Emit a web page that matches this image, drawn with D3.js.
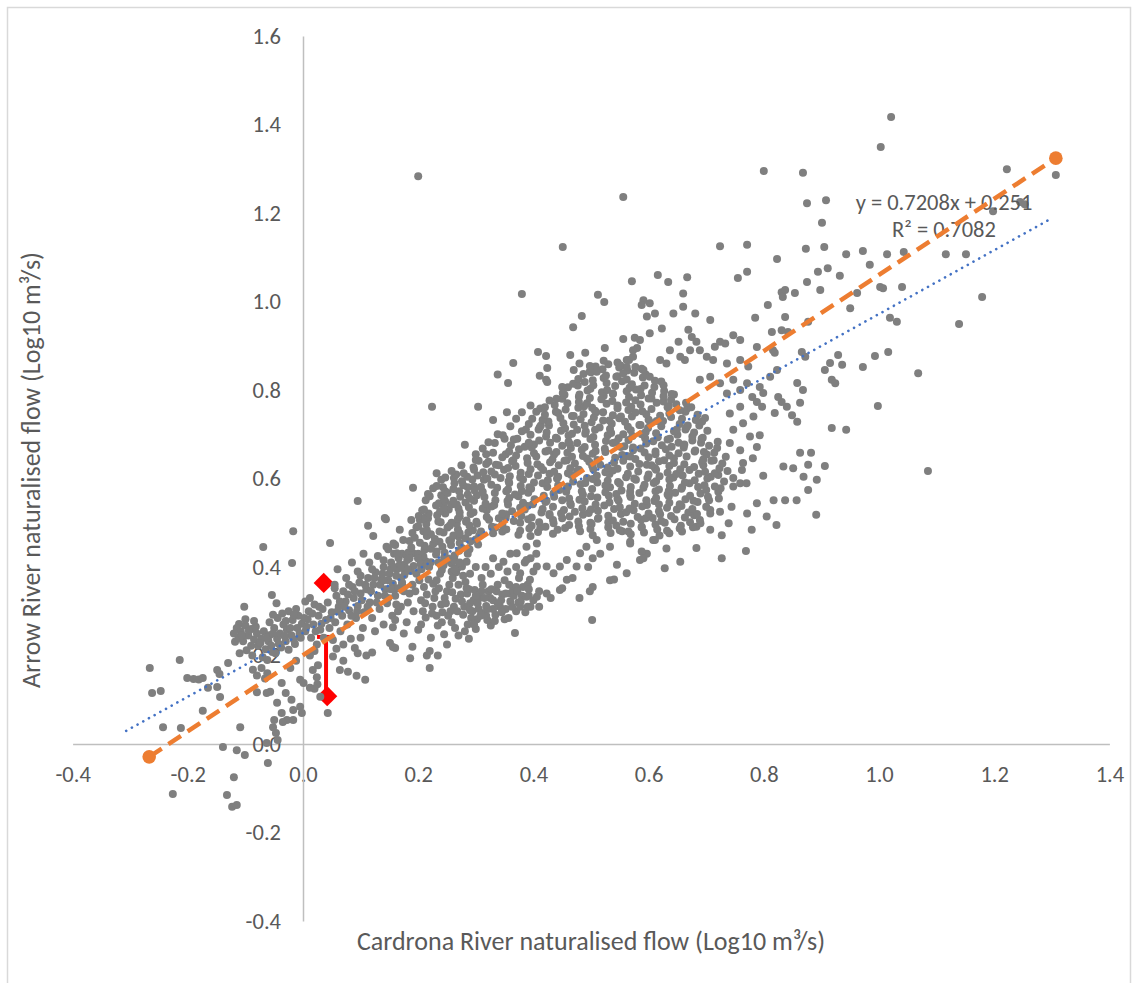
<!DOCTYPE html>
<html>
<head>
<meta charset="utf-8">
<script src="https://cdn.jsdelivr.net/npm/d3@7"></script>
<style>
  body { margin: 0; background: #fff; }
  text { font-family: Carlito, Lato, sans-serif; }
</style>
</head>
<body>
<div id="chart"></div>
<script>

var xTicks = [-0.4, -0.2, 0, 0.2, 0.4, 0.6, 0.8, 1.0, 1.2, 1.4],
    yTicks = [-0.4, -0.2, 0, 0.2, 0.4, 0.6, 0.8, 1.0, 1.2, 1.4, 1.6];

// gray points, Cardrona (x) vs Arrow (y), grouped by area of the cloud
var tailLow = [[-0.266,0.172],[-0.214,0.19],[-0.262,0.115],[-0.247,0.12],[-0.243,0.038],[-0.212,0.036],[-0.201,0.149],[-0.19,0.147],[-0.181,0.146],[-0.174,0.149],[-0.149,0.167],[-0.145,0.158],[-0.13,0.183],[-0.165,0.127],[-0.149,0.129],[-0.144,0.106],[-0.174,0.075],[-0.109,0.038],[-0.139,-0.007],[-0.115,-0.014],[-0.101,-0.025],[-0.12,-0.075],[-0.061,-0.043],[-0.226,-0.113],[-0.132,-0.115],[-0.123,-0.142],[-0.115,-0.138],[-0.087,0.168],[-0.08,0.155],[-0.072,0.172],[-0.066,0.148],[-0.062,0.16],[-0.057,0.118],[-0.037,0.138],[-0.05,0.054],[-0.052,0.038],[-0.047,0.025],[-0.044,0.009],[-0.063,0.002],[-0.02,0.1],[-0.017,0.077],[-0.005,0.084],[-0.002,0.07],[-0.037,0.07],[-0.028,0.054],[-0.005,0.145],[0.001,0.138],[0.012,0.127],[0.043,0.07],[0.017,0.167],[0.024,0.151],[0.064,0.167],[0.078,0.163],[0.093,0.154],[0.108,0.145],[0.09,0.217],[0.095,0.205],[0.11,0.2],[0.12,0.207],[0.156,0.264],[0.151,0.228],[0.16,0.217],[-0.035,0.05],[-0.017,0.054],[-0.045,0.093],[-0.08,0.117],[-0.063,0.115],[-0.03,0.115],[0.095,0.549],[0.144,0.508],[0.113,0.493],[0.122,0.47],[-0.017,0.481],[-0.069,0.445],[0.047,0.454],[-0.019,0.409],[-0.054,0.337],[-0.046,0.318],[-0.102,0.31],[-0.052,0.292],[-0.111,0.271],[-0.118,0.231],[0.025,0.135],[0.026,0.178],[0.058,0.215],[-0.012,0.188],[-0.022,0.172],[0.07,0.188],[0.03,0.107],[0.02,0.125]];

var coreLow = [[-0.115,0.262],[-0.108,0.255],[-0.1,0.268],[-0.112,0.24],[-0.104,0.232],[-0.095,0.245],[-0.09,0.26],[-0.085,0.236],[-0.08,0.25],[-0.078,0.222],[-0.072,0.238],[-0.068,0.255],[-0.065,0.214],[-0.06,0.232],[-0.058,0.246],[-0.055,0.222],[-0.05,0.262],[-0.048,0.205],[-0.045,0.238],[-0.04,0.25],[-0.038,0.218],[-0.034,0.27],[-0.03,0.232],[-0.028,0.258],[-0.025,0.213],[-0.02,0.245],[-0.018,0.28],[-0.014,0.226],[-0.01,0.262],[-0.008,0.29],[-0.004,0.24],[-0.002,0.272],[-0.11,0.205],[-0.098,0.212],[-0.088,0.2],[-0.07,0.196],[-0.058,0.275],[-0.044,0.285],[-0.036,0.295],[-0.025,0.3],[-0.012,0.305],[-0.1,0.282],[-0.085,0.278],[-0.12,0.25],[-0.062,0.19],
  [0.004,0.255],[0.008,0.282],[0.01,0.3],[0.014,0.24],[0.018,0.27],[0.02,0.315],[0.024,0.225],[0.027,0.29],[0.03,0.258],[0.034,0.305],[0.036,0.24],[0.04,0.28],[0.043,0.32],[0.046,0.262],[0.05,0.298],[0.052,0.235],[0.056,0.275],[0.058,0.335],[0.062,0.31],[0.065,0.255],[0.068,0.29],[0.07,0.345],[0.074,0.322],[0.077,0.27],[0.08,0.302],[0.083,0.238],[0.086,0.355],[0.088,0.33],[0.092,0.285],[0.095,0.312],[0.098,0.365],[0.1,0.34],[0.104,0.262],[0.106,0.298],[0.11,0.35],[0.113,0.375],[0.116,0.32],[0.12,0.285],[0.122,0.36],[0.126,0.388],[0.13,0.335],[0.133,0.305],[0.136,0.372],[0.14,0.4],[0.143,0.35],[0.146,0.318],[0.15,0.385],[0.153,0.41],[0.156,0.362],[0.16,0.335],[0.163,0.395],[0.166,0.42],[0.17,0.375],[0.055,0.352],[0.055,0.36],[0.075,0.375],[0.095,0.39],[0.115,0.41],[0.13,0.425],[0.148,0.44],[0.02,0.21],[0.07,0.225],[0.1,0.24],[0.125,0.255],[0.14,0.27],[0.165,0.3],[0.06,0.395],[0.085,0.41],[0.105,0.43],[0.012,0.33],[0.004,0.322],[0.16,0.45],[0.172,0.43],[0.175,0.345],[0.012,0.2],[0.052,0.198],
  [-0.106,0.246],[-0.094,0.256],[-0.082,0.265],[-0.074,0.228],[-0.063,0.24],[-0.052,0.25],[-0.042,0.226],[-0.032,0.244],[-0.022,0.262],[-0.016,0.236],[-0.006,0.25],[-0.09,0.222],[-0.053,0.208],[-0.03,0.278],[-0.016,0.292],[0.002,0.285],[0.006,0.265],[0.016,0.295],[0.022,0.255],[0.028,0.31],[0.032,0.272],[0.048,0.285],[0.06,0.3],[0.064,0.322],[0.072,0.31],[0.078,0.338],[0.084,0.29],[0.09,0.345],[0.094,0.3],[0.102,0.325],[0.108,0.36],[0.112,0.31],[0.118,0.345],[0.124,0.375],[0.128,0.32],[0.134,0.36],[0.138,0.385],[0.142,0.335],[0.148,0.37],[0.152,0.395],[0.158,0.35],[0.162,0.38],[0.168,0.405],[0.172,0.36],[0.178,0.39],[0.08,0.36],[0.1,0.38],[0.12,0.395],[0.14,0.415],[0.158,0.43]];

var clusterUpper = [[0.172,0.398],[0.187,0.391],[0.206,0.396],[0.219,0.4],[0.241,0.393],[0.258,0.39],[0.269,0.399],
  [0.176,0.405],[0.192,0.402],[0.204,0.407],[0.222,0.411],[0.244,0.404],[0.258,0.408],[0.276,0.401],
  [0.181,0.416],[0.2,0.42],[0.213,0.413],[0.235,0.41],[0.252,0.419],[0.263,0.415],[0.284,0.412],
  [0.179,0.427],[0.191,0.431],[0.209,0.424],[0.231,0.428],[0.245,0.421],[0.263,0.426],[0.286,0.43],
  [0.183,0.433],[0.2,0.43],[0.211,0.439],[0.232,0.435],[0.246,0.432],[0.271,0.437],[0.287,0.441],
  [0.188,0.444],[0.211,0.448],[0.222,0.441],[0.242,0.446],[0.257,0.45],[0.276,0.443],[0.289,0.44],
  [0.185,0.459],[0.203,0.455],[0.226,0.452],[0.237,0.457],[0.257,0.461],[0.272,0.454],[0.291,0.458],[0.304,0.451],
  [0.194,0.466],[0.215,0.47],[0.229,0.463],[0.254,0.46],[0.27,0.469],[0.282,0.465],[0.3,0.462],
  [0.19,0.477],[0.209,0.481],[0.222,0.474],[0.244,0.478],[0.261,0.471],[0.272,0.476],
  [0.197,0.49],[0.215,0.483],[0.237,0.48],[0.251,0.489],[0.269,0.485],
  [0.2,0.492],[0.214,0.497],[0.239,0.501],[0.255,0.494],[0.267,0.498],[0.283,0.502],
  [0.203,0.506],[0.217,0.51],[0.235,0.503],[0.258,0.5],[0.269,0.509],
  [0.201,0.515],[0.212,0.512],[0.233,0.517],[0.247,0.521],[0.272,0.514],
  [0.207,0.528],[0.218,0.521],[0.238,0.526],[0.253,0.53],[0.272,0.523],
  [0.21,0.53],[0.231,0.539],[0.245,0.535],[0.258,0.541],[0.27,0.532],
  [0.213,0.551],[0.236,0.544],[0.247,0.548],[0.267,0.541],[0.282,0.546],
  [0.22,0.56],[0.245,0.553],[0.261,0.55],[0.273,0.559],
  [0.217,0.565],[0.24,0.562],[0.251,0.567],[0.271,0.571],[0.286,0.564],
  [0.226,0.578],[0.247,0.571],[0.261,0.576],[0.286,0.58],
  [0.232,0.583],[0.243,0.58],[0.263,0.589],[0.278,0.585],[0.297,0.582],
  [0.24,0.597],[0.262,0.601],[0.276,0.594],[0.294,0.598],
  [0.247,0.602],[0.266,0.609],[0.285,0.604],[0.303,0.607],
  [0.258,0.617],[0.279,0.612],[0.297,0.62],[0.313,0.614],
  [0.275,0.63],[0.296,0.625],[0.318,0.633],[0.3,0.642],[0.322,0.638],
  [0.305,0.64],[0.318,0.655],[0.3,0.655],[0.312,0.668],[0.322,0.682],[0.338,0.7],[0.35,0.69],[0.36,0.718],[0.37,0.735],[0.38,0.75],[0.395,0.765],
  [0.145,0.446],[0.157,0.453],[0.163,0.431],[0.174,0.461],[0.168,0.484],[0.188,0.506]];

var bandLower = [[0.14,0.37],[0.148,0.33],[0.155,0.29],[0.158,0.4],[0.165,0.352],[0.17,0.31],[0.176,0.382],[0.18,0.275],[0.185,0.34],[0.19,0.36],[0.192,0.3],[0.197,0.385],[0.2,0.258],[0.205,0.325],[0.21,0.355],[0.213,0.286],[0.218,0.372],[0.222,0.24],[0.225,0.31],[0.23,0.345],[0.234,0.268],[0.238,0.385],[0.242,0.298],[0.246,0.33],[0.25,0.225],[0.254,0.36],[0.258,0.275],[0.262,0.31],[0.266,0.388],[0.27,0.245],[0.274,0.338],[0.278,0.292],[0.282,0.366],[0.286,0.27],[0.29,0.318],[0.294,0.3],[0.298,0.348],[0.302,0.282],[0.306,0.33],[0.31,0.375],[0.314,0.296],[0.318,0.312],[0.322,0.345],[0.326,0.268],[0.33,0.325],[0.334,0.292],[0.338,0.36],[0.342,0.31],[0.346,0.338],[0.35,0.282],[0.355,0.39],[0.36,0.322],[0.365,0.35],[0.37,0.3],[0.375,0.375],[0.38,0.335],[0.385,0.41],[0.39,0.36],[0.395,0.31],[0.4,0.39],[0.405,0.43],[0.41,0.345],[0.3,0.26],[0.32,0.28],[0.285,0.34],[0.31,0.345],[0.296,0.325],[0.215,0.405],[0.2,0.42],[0.185,0.42],[0.245,0.41],[0.272,0.41],[0.34,0.4],[0.36,0.43],[0.33,0.42],[0.3,0.4],[0.16,0.28],[0.175,0.25],[0.19,0.22],[0.22,0.21],[0.156,0.219],[0.186,0.194],[0.22,0.172],[0.215,0.2],[0.234,0.2],[0.368,0.251],[0.39,0.31],[0.41,0.31],[0.377,0.31],[0.36,0.34],[0.37,0.355],
  [0.152,0.35],[0.162,0.315],[0.172,0.365],[0.182,0.32],[0.195,0.345],[0.202,0.37],[0.208,0.3],[0.215,0.338],[0.226,0.362],[0.232,0.29],[0.24,0.315],[0.25,0.345],[0.256,0.3],[0.265,0.328],[0.27,0.36],[0.28,0.31],[0.288,0.35],[0.292,0.285],[0.3,0.335],[0.305,0.305],[0.312,0.36],[0.318,0.29],[0.325,0.33],[0.33,0.305],[0.336,0.345],[0.344,0.325],[0.352,0.305],[0.358,0.36],[0.366,0.335],[0.374,0.32],[0.382,0.355],[0.392,0.335],[0.35,0.37],[0.326,0.385],[0.29,0.385],[0.26,0.375],[0.232,0.37],[0.205,0.395],[0.182,0.395],[0.17,0.4],
  [0.205,0.27],[0.212,0.318],[0.224,0.295],[0.228,0.33],[0.236,0.352],[0.241,0.275],[0.248,0.318],[0.252,0.29],[0.259,0.343],[0.264,0.262],[0.268,0.3],[0.276,0.322],[0.281,0.255],[0.284,0.352],[0.29,0.302],[0.297,0.27],[0.303,0.318],[0.308,0.29],[0.315,0.33],[0.321,0.305],[0.327,0.35],[0.333,0.278],[0.338,0.318],[0.345,0.298],[0.352,0.34],[0.357,0.285],[0.363,0.31],[0.372,0.345],[0.378,0.322],[0.386,0.298],[0.392,0.35],[0.4,0.325],[0.263,0.395],[0.278,0.38],[0.317,0.4],[0.348,0.412],[0.37,0.4],[0.395,0.42],[0.245,0.248],[0.288,0.238]];

var scatterMid = [[0.371,0.431],[0.388,0.446],[0.406,0.453],[0.388,0.416],[0.406,0.401],[0.377,0.386],[0.394,0.371],[0.423,0.401],[0.435,0.386],[0.446,0.401],[0.458,0.416],[0.475,0.401],[0.481,0.431],[0.492,0.446],[0.51,0.461],[0.458,0.371],[0.446,0.348],[0.423,0.34],[0.406,0.333],[0.388,0.333],[0.43,0.33],[0.45,0.352],[0.468,0.375],[0.48,0.33],[0.498,0.345],[0.503,0.355],[0.502,0.28],[0.533,0.37],[0.54,0.372],[0.562,0.386],[0.585,0.416],[0.597,0.43],[0.608,0.461],[0.568,0.457],[0.516,0.43],[0.503,0.42],[0.495,0.4],[0.533,0.446],[0.568,0.453],[0.588,0.435],[0.611,0.461],[0.631,0.442],[0.545,0.405],[0.591,0.42],[0.655,0.412],[0.628,0.397],[0.683,0.443],[0.707,0.484],[0.727,0.472],[0.727,0.42],[0.769,0.436],[0.779,0.484]];

var massCentral = [[0.287,0.478],[0.306,0.471],[0.33,0.476],[0.346,0.48],[0.374,0.473],[0.395,0.47],[0.408,0.479],[0.434,0.475],[0.503,0.472],[0.534,0.477],[0.554,0.481],[0.569,0.474],[0.592,0.478],[0.619,0.471],[0.636,0.476],[0.658,0.48],
  [0.295,0.483],[0.309,0.48],[0.334,0.489],[0.353,0.485],[0.377,0.482],[0.393,0.487],[0.421,0.491],[0.442,0.484],[0.455,0.488],[0.481,0.481],[0.499,0.486],[0.53,0.49],[0.55,0.483],[0.565,0.48],[0.588,0.489],[0.615,0.485],[0.632,0.482],[0.654,0.487],[0.683,0.491],
  [0.289,0.494],[0.302,0.498],[0.328,0.491],[0.346,0.496],[0.377,0.5],[0.397,0.493],[0.412,0.49],[0.435,0.499],[0.462,0.495],[0.479,0.492],[0.501,0.497],[0.53,0.501],[0.544,0.494],[0.569,0.498],[0.588,0.491],[0.612,0.496],[0.628,0.5],[0.656,0.493],[0.677,0.49],[0.69,0.499],
  [0.284,0.505],[0.301,0.502],[0.323,0.507],[0.352,0.511],[0.366,0.504],[0.391,0.508],[0.41,0.501],[0.434,0.506],[0.45,0.51],[0.478,0.503],[0.499,0.5],[0.512,0.509],[0.538,0.505],[0.556,0.502],[0.587,0.507],[0.607,0.511],[0.622,0.504],[0.645,0.508],[0.672,0.501],[0.689,0.506],
  [0.291,0.52],[0.319,0.513],[0.34,0.51],[0.353,0.519],[0.379,0.515],[0.397,0.512],[0.428,0.517],[0.448,0.521],[0.463,0.514],[0.486,0.518],[0.513,0.511],[0.53,0.516],[0.552,0.52],[0.581,0.513],[0.595,0.51],[0.62,0.519],[0.639,0.515],[0.663,0.512],[0.679,0.517],[0.707,0.521],
  [0.296,0.524],[0.319,0.528],[0.346,0.521],[0.363,0.526],[0.385,0.53],[0.414,0.523],[0.428,0.52],[0.453,0.529],[0.472,0.525],[0.496,0.522],[0.512,0.527],[0.54,0.531],[0.561,0.524],[0.574,0.528],[0.6,0.521],[0.618,0.526],[0.649,0.53],[0.669,0.523],[0.684,0.52],[0.707,0.529],
  [0.288,0.535],[0.312,0.532],[0.328,0.537],[0.356,0.541],[0.377,0.534],[0.39,0.538],[0.416,0.531],[0.434,0.536],[0.465,0.54],[0.485,0.533],[0.5,0.53],[0.523,0.539],[0.55,0.535],[0.567,0.532],[0.589,0.537],[0.618,0.541],[0.632,0.534],[0.657,0.538],[0.676,0.531],[0.7,0.536],
  [0.297,0.55],[0.317,0.543],[0.332,0.54],[0.355,0.549],[0.382,0.545],[0.399,0.542],[0.421,0.547],[0.45,0.551],[0.464,0.544],[0.489,0.548],[0.508,0.541],[0.532,0.546],[0.548,0.55],[0.576,0.543],[0.597,0.54],[0.61,0.549],[0.636,0.545],[0.654,0.542],[0.685,0.547],[0.705,0.551],
  [0.29,0.554],[0.315,0.558],[0.334,0.551],[0.358,0.556],[0.374,0.56],[0.402,0.553],[0.423,0.55],[0.436,0.559],[0.462,0.555],[0.48,0.552],[0.511,0.557],[0.531,0.561],[0.546,0.554],[0.569,0.558],[0.596,0.551],[0.613,0.556],[0.635,0.56],[0.664,0.553],[0.678,0.55],[0.703,0.559],[0.722,0.555],
  [0.302,0.562],[0.333,0.567],[0.353,0.571],[0.368,0.564],[0.391,0.568],[0.418,0.561],[0.435,0.566],[0.457,0.57],[0.486,0.563],[0.5,0.56],[0.525,0.569],[0.544,0.565],[0.568,0.562],[0.584,0.567],[0.612,0.571],[0.633,0.564],[0.646,0.568],[0.672,0.561],[0.69,0.566],[0.721,0.57],
  [0.298,0.573],[0.312,0.57],[0.337,0.579],[0.356,0.575],[0.38,0.572],[0.396,0.577],[0.424,0.581],[0.445,0.574],[0.458,0.578],[0.484,0.571],[0.502,0.576],[0.533,0.58],[0.553,0.573],[0.568,0.57],[0.591,0.579],[0.618,0.575],[0.635,0.572],[0.657,0.577],[0.686,0.581],[0.7,0.574],[0.725,0.578],
  [0.309,0.581],[0.327,0.586],[0.358,0.59],[0.378,0.583],[0.393,0.58],[0.416,0.589],[0.443,0.585],[0.46,0.582],[0.482,0.587],[0.511,0.591],[0.525,0.584],[0.55,0.588],[0.569,0.581],[0.593,0.586],[0.609,0.59],[0.637,0.583],[0.658,0.58],[0.671,0.589],[0.697,0.585],[0.715,0.582],
  [0.314,0.597],[0.343,0.601],[0.357,0.594],[0.382,0.598],[0.401,0.591],[0.425,0.596],[0.441,0.6],[0.469,0.593],[0.49,0.59],[0.503,0.599],[0.529,0.595],[0.547,0.592],[0.578,0.597],[0.598,0.601],[0.613,0.594],[0.636,0.598],[0.663,0.591],[0.68,0.596],[0.702,0.6],[0.731,0.593],
  [0.32,0.6],[0.333,0.609],[0.359,0.605],[0.377,0.602],[0.408,0.607],[0.428,0.611],[0.443,0.604],[0.466,0.608],[0.493,0.601],[0.51,0.606],[0.532,0.61],[0.561,0.603],[0.575,0.6],[0.6,0.609],[0.619,0.605],[0.643,0.602],[0.659,0.607],[0.687,0.611],[0.708,0.604],[0.721,0.608],[0.747,0.601],
  [0.327,0.616],[0.349,0.62],[0.378,0.613],[0.392,0.61],[0.417,0.619],[0.436,0.615],[0.46,0.612],[0.476,0.617],[0.504,0.621],[0.525,0.614],[0.538,0.618],[0.564,0.611],[0.582,0.616],[0.613,0.62],[0.633,0.613],[0.648,0.61],[0.671,0.619],[0.698,0.615],[0.715,0.612],[0.737,0.617],
  [0.335,0.631],[0.356,0.624],[0.369,0.628],[0.395,0.621],[0.413,0.626],[0.444,0.63],[0.464,0.623],[0.479,0.62],[0.502,0.629],[0.529,0.625],[0.546,0.622],[0.568,0.627],[0.597,0.631],[0.611,0.624],[0.636,0.628],[0.655,0.621],[0.679,0.626],[0.695,0.63],[0.723,0.623],
  [0.34,0.63],[0.363,0.639],[0.39,0.635],[0.407,0.632],[0.429,0.637],[0.458,0.641],[0.472,0.634],[0.497,0.638],[0.516,0.631],[0.54,0.636],[0.556,0.64],[0.584,0.633],[0.605,0.63],[0.618,0.639],[0.644,0.635],[0.662,0.632],[0.693,0.637],[0.713,0.641],[0.728,0.634],
  [0.346,0.648],[0.365,0.641],[0.389,0.646],[0.405,0.65],[0.433,0.643],[0.454,0.64],[0.467,0.649],[0.493,0.645],[0.511,0.642],[0.542,0.647],[0.562,0.651],[0.577,0.644],[0.6,0.648],[0.627,0.641],[0.644,0.646],[0.666,0.65],[0.695,0.643],[0.709,0.64],[0.734,0.649],
  [0.352,0.655],[0.37,0.652],[0.401,0.657],[0.421,0.661],[0.436,0.654],[0.459,0.658],[0.486,0.651],[0.503,0.656],[0.525,0.66],[0.554,0.653],[0.568,0.65],[0.593,0.659],[0.612,0.655],[0.636,0.652],[0.652,0.657],[0.68,0.661],[0.701,0.654],[0.714,0.658],
  [0.358,0.661],[0.375,0.666],[0.397,0.67],[0.426,0.663],[0.44,0.66],[0.465,0.669],[0.484,0.665],[0.508,0.662],[0.524,0.667],[0.552,0.671],[0.573,0.664],[0.586,0.668],[0.612,0.661],[0.63,0.666],[0.661,0.67],[0.681,0.663],[0.696,0.66],[0.719,0.669],
  [0.361,0.675],[0.385,0.672],[0.401,0.677],[0.429,0.681],[0.45,0.674],[0.463,0.678],[0.489,0.671],[0.507,0.676],[0.538,0.68],[0.558,0.673],[0.573,0.67],[0.596,0.679],[0.623,0.675],[0.64,0.672],[0.662,0.677],[0.691,0.681],[0.705,0.674],
  [0.366,0.688],[0.392,0.681],[0.41,0.686],[0.441,0.69],[0.461,0.683],[0.476,0.68],[0.499,0.689],[0.526,0.685],[0.543,0.682],[0.565,0.687],[0.594,0.691],[0.608,0.684],[0.633,0.688],[0.652,0.681],[0.676,0.686],[0.692,0.69],[0.72,0.683],
  [0.372,0.69],[0.395,0.699],[0.422,0.695],[0.439,0.692],[0.461,0.697],[0.49,0.701],[0.504,0.694],[0.529,0.698],[0.548,0.691],[0.572,0.696],[0.588,0.7],[0.616,0.693],[0.637,0.69],[0.65,0.699],[0.676,0.695],[0.694,0.692],
  [0.38,0.707],[0.409,0.711],[0.423,0.704],[0.448,0.708],[0.467,0.701],[0.491,0.706],[0.507,0.71],[0.535,0.703],[0.556,0.7],[0.569,0.709],[0.595,0.705],[0.613,0.702],[0.644,0.707],[0.664,0.711],[0.679,0.704],[0.702,0.708],
  [0.387,0.711],[0.411,0.716],[0.427,0.72],[0.455,0.713],[0.476,0.71],[0.489,0.719],[0.515,0.715],[0.533,0.712],[0.564,0.717],[0.584,0.721],[0.599,0.714],[0.622,0.718],[0.649,0.711],[0.666,0.716],[0.688,0.72],
  [0.392,0.723],[0.413,0.72],[0.426,0.729],[0.452,0.725],[0.47,0.722],[0.501,0.727],[0.521,0.731],[0.536,0.724],[0.559,0.728],[0.586,0.721],[0.603,0.726],[0.625,0.73],[0.654,0.723],[0.668,0.72],[0.693,0.729],
  [0.398,0.735],[0.416,0.732],[0.447,0.737],[0.467,0.741],[0.482,0.734],[0.505,0.738],[0.532,0.731],[0.549,0.736],[0.571,0.74],[0.6,0.733],[0.614,0.73],[0.639,0.739],[0.658,0.735],[0.682,0.732],[0.698,0.737],
  [0.405,0.751],[0.42,0.744],[0.443,0.748],[0.47,0.741],[0.487,0.746],[0.509,0.75],[0.538,0.743],[0.552,0.74],[0.577,0.749],[0.596,0.745],[0.62,0.742],[0.636,0.747],[0.664,0.751],[0.685,0.744],
  [0.412,0.758],[0.439,0.751],[0.456,0.756],[0.478,0.76],[0.507,0.753],[0.521,0.75],[0.546,0.759],[0.565,0.755],[0.589,0.752],[0.605,0.757],[0.633,0.761],[0.654,0.754],[0.667,0.758],
  [0.42,0.761],[0.437,0.766],[0.459,0.77],[0.488,0.763],[0.502,0.76],[0.527,0.769],[0.546,0.765],[0.57,0.762],[0.586,0.767],[0.614,0.771],[0.635,0.764],[0.648,0.768],[0.674,0.761],
  [0.428,0.776],[0.45,0.78],[0.479,0.773],[0.493,0.77],[0.518,0.779],[0.537,0.775],[0.561,0.772],[0.577,0.777],[0.605,0.781],[0.626,0.774],[0.639,0.778],[0.665,0.771],
  [0.44,0.78],[0.454,0.789],[0.479,0.785],[0.498,0.782],[0.522,0.787],[0.538,0.791],[0.566,0.784],[0.587,0.788],[0.6,0.781],[0.626,0.786],[0.644,0.79],
  [0.451,0.793],[0.48,0.79],[0.494,0.799],[0.519,0.795],[0.538,0.792],[0.562,0.797],[0.578,0.801],[0.606,0.794],[0.627,0.798],[0.64,0.791],
  [0.46,0.806],[0.477,0.81],[0.499,0.803],[0.528,0.8],[0.542,0.809],[0.567,0.805],[0.586,0.802],[0.61,0.807],[0.626,0.811],
  [0.469,0.814],[0.489,0.818],[0.504,0.811],[0.527,0.816],[0.554,0.82],[0.571,0.813],[0.593,0.81],[0.622,0.819],
  [0.478,0.825],[0.503,0.822],[0.522,0.827],[0.546,0.831],[0.562,0.824],[0.59,0.828],[0.611,0.821],
  [0.487,0.836],[0.5,0.84],[0.526,0.833],[0.544,0.83],[0.575,0.839],[0.595,0.835],
  [0.498,0.842],[0.52,0.847],[0.549,0.851],[0.563,0.844],[0.588,0.848],
  [0.508,0.853],[0.53,0.858],[0.551,0.855],[0.577,0.852],
  [0.522,0.866],[0.546,0.862],[0.566,0.868]];

var scatterUpper = [[0.224,0.762],[0.304,0.762],[0.356,0.816],[0.424,0.818],[0.354,0.75],[0.281,0.676],[0.191,0.579],[0.142,0.511],[0.232,0.612],[0.33,0.732],[0.333,0.68],[0.347,0.698],[0.33,0.658],[0.38,1.017],[0.512,1.015],[0.523,0.999],[0.484,0.967],[0.469,0.942],[0.556,0.915],[0.576,0.918],[0.524,0.895],[0.408,0.886],[0.422,0.877],[0.464,0.879],[0.49,0.884],[0.365,0.861],[0.338,0.835],[0.411,0.832],[0.422,0.823],[0.424,0.85],[0.45,0.807],[0.47,0.845],[0.48,0.86],[0.498,0.854],[0.51,0.841],[0.556,0.838],[0.562,0.852],[0.573,0.875],[0.58,0.895],
  [0.571,1.046],[0.616,1.06],[0.634,1.044],[0.667,1.055],[0.755,1.053],[0.771,1.067],[0.823,1.096],[0.894,1.067],[0.911,1.075],[0.932,1.058],[0.875,1.044],[0.898,1.026],[0.831,1.021],[0.837,1.026],[0.833,1.01],[0.854,1.019],[0.807,0.992],[0.785,0.963],[0.837,0.965],[0.814,0.931],[0.831,0.935],[0.842,0.931],[0.877,0.954],
  [0.591,1.003],[0.602,0.996],[0.588,0.992],[0.597,0.966],[0.611,0.973],[0.643,0.973],[0.66,1.018],[0.66,0.988],[0.681,0.973],[0.707,0.958],[0.623,0.939],[0.602,0.928],[0.585,0.913],[0.637,0.89],[0.652,0.909],[0.669,0.936],[0.675,0.92],[0.683,0.909],[0.689,0.89],[0.715,0.898],[0.724,0.909],[0.733,0.905],[0.747,0.924],[0.759,0.913],[0.712,0.868],[0.701,0.875],[0.672,0.89],[0.663,0.868],[0.655,0.875],[0.631,0.86],[0.62,0.868],[0.55,0.856],[0.562,0.868],[0.573,0.89],[0.591,0.845],[0.602,0.83]];

var scatterRight = [[0.849,0.743],[0.858,0.728],[0.831,0.773],[0.84,0.762],[0.819,0.748],[0.863,0.771],[0.858,0.816],[0.868,0.8],[0.788,0.897],[0.816,0.89],[0.819,0.884],[0.793,0.807],[0.799,0.793],[0.78,0.784],[0.788,0.773],[0.797,0.762],[0.825,0.784],[0.781,0.646],[0.793,0.698],[0.788,0.671],[0.764,0.635],[0.762,0.619],[0.799,0.606],
  [0.866,0.886],[0.872,0.875],[0.906,0.845],[0.918,0.823],[0.924,0.815],[0.915,0.861],[0.929,0.879],[0.936,0.857],[0.972,0.852],[0.993,0.877],[1.016,0.886],[1.068,0.838],[0.998,0.764],[0.918,0.714],[0.943,0.71],[1.085,0.617],
  [0.863,0.658],[0.882,0.658],[0.834,0.627],[0.851,0.623],[0.877,0.631],[0.906,0.628],[0.869,0.604],[0.892,0.597],[0.877,0.574],[0.891,0.518],[0.857,0.551],[0.837,0.551],[0.817,0.551],[0.805,0.514],[0.822,0.495],[0.771,0.521],[0.788,0.544],[0.744,0.536],[0.724,0.525],[0.739,0.499],[0.759,0.589],[0.77,0.589],[0.747,0.582],
  [0.689,0.823],[0.707,0.83],[0.724,0.815],[0.747,0.823],[0.759,0.8],[0.771,0.815],[0.736,0.792],[0.741,0.747],[0.759,0.762],[0.782,0.74],[0.764,0.725],[0.747,0.71],[0.741,0.68],[0.759,0.664],[0.776,0.695],[0.773,0.853],[0.759,0.868],[0.736,0.86],[0.811,0.83],[0.823,0.845]];

var outliers = [[0.2,1.283],[0.451,1.123],[0.556,1.236],[0.724,1.125],[0.771,1.128],[0.8,1.295],[0.868,1.291],[0.875,1.222],[0.908,1.229],[0.901,1.178],[0.873,1.119],[0.905,1.123],[0.943,1.107],[0.972,1.114],[1.014,1.107],[1.043,1.112],[1.116,1.107],[1.151,1.107],[0.984,1.083],[1.003,1.349],[1.021,1.417],[1.222,1.299],[1.307,1.286],[1.245,1.225],[1.253,1.22],[1.198,1.204],[0.962,1.019],[1.002,1.033],[1.007,1.03],[1.04,1.033],[0.95,0.985],[1.019,0.963],[1.031,0.954],[1.179,1.01],[1.139,0.949]];

// linear trend (Excel), orange comparison line, red highlighted points
var trendSlope = 0.7208, trendIntercept = 0.251, trendX = [-0.307, 1.30];
var orangeLine = [[-0.267, -0.029], [1.307, 1.324]];
var redPoints = [[0.036, 0.364], [0.042, 0.108]];
var redBar = [[0.04, 0.242], [0.04, 0.108]];
var equation = ["y = 0.7208x + 0.251", "R\u00b2 = 0.7082"];

var width = 1138, height = 983;

var svg = d3.select("#chart").append("svg")
    .attr("width", width)
    .attr("height", height);

svg.append("rect")
    .attr("x", 7.5).attr("y", 7.5)
    .attr("width", 1123).attr("height", 1000)
    .attr("fill", "none")
    .attr("stroke", "#d9d9d9")
    .attr("stroke-width", 1.5);

var x = d3.scaleLinear().domain([-0.4, 1.4]).range([72.6, 1109.4]);
var y = d3.scaleLinear().domain([-0.4, 1.6]).range([921, 36]);
var fmt = function(d) { return d.toFixed(1); };

var xAxis = svg.append("g")
    .attr("transform", "translate(0," + y(0) + ")")
    .call(d3.axisBottom(x).tickValues(xTicks).tickSize(0).tickPadding(22).tickFormat(fmt));
var yAxis = svg.append("g")
    .attr("transform", "translate(" + x(0) + ",0)")
    .call(d3.axisLeft(y).tickValues(yTicks).tickSize(0).tickPadding(22).tickFormat(fmt));

[xAxis, yAxis].forEach(function(a) {
    a.select(".domain").attr("stroke", "#bfbfbf").attr("stroke-width", 1.5);
    a.selectAll("text").attr("fill", "#595959").style("font-size", "22.5px");
});

// red series sits under the gray cloud
var red = svg.append("g");
red.append("line")
    .attr("x1", x(redBar[0][0])).attr("y1", y(redBar[0][1]))
    .attr("x2", x(redBar[1][0])).attr("y2", y(redBar[1][1]))
    .attr("stroke", "#ff0000").attr("stroke-width", 4);
red.append("line")
    .attr("x1", x(redBar[0][0]) - 9).attr("y1", y(redBar[0][1]))
    .attr("x2", x(redBar[0][0]) + 9).attr("y2", y(redBar[0][1]))
    .attr("stroke", "#ff0000").attr("stroke-width", 4);
red.selectAll("path")
    .data(redPoints)
    .enter()
    .append("path")
    .attr("d", d3.symbol().type(d3.symbolDiamond2).size(260))
    .attr("transform", function(d) { return "translate(" + x(d[0]) + "," + y(d[1]) + ")"; })
    .attr("fill", "#ff0000");

var points = [].concat(tailLow, coreLow, clusterUpper, bandLower, scatterMid, massCentral, scatterUpper, scatterRight, outliers);

svg.append("g").selectAll("circle")
    .data(points)
    .enter()
    .append("circle")
    .attr("cx", function(d) { return x(d[0]); })
    .attr("cy", function(d) { return y(d[1]); })
    .attr("r", 4)
    .attr("fill", "#7f7f7f");

// equation label
svg.append("g").selectAll("text")
    .data(equation)
    .enter()
    .append("text")
    .attr("x", 944)
    .attr("y", function(d, i) { return 210 + i * 27; })
    .attr("text-anchor", "middle")
    .attr("fill", "#595959")
    .style("font-size", "22.5px")
    .text(function(d) { return d; });

var line = d3.line()
    .x(function(d) { return x(d[0]); })
    .y(function(d) { return y(d[1]); });

svg.append("path")
    .datum(trendX.map(function(v) { return [v, trendSlope * v + trendIntercept]; }))
    .attr("d", line)
    .attr("fill", "none")
    .attr("stroke", "#4472c4")
    .attr("stroke-width", 2.6)
    .attr("stroke-linecap", "round")
    .attr("stroke-dasharray", "0.1,6.4");

svg.append("path")
    .datum(orangeLine)
    .attr("d", line)
    .attr("fill", "none")
    .attr("stroke", "#ed7d31")
    .attr("stroke-width", 4.5)
    .attr("stroke-dasharray", "15,8");

svg.append("g").selectAll("circle")
    .data(orangeLine)
    .enter()
    .append("circle")
    .attr("cx", function(d) { return x(d[0]); })
    .attr("cy", function(d) { return y(d[1]); })
    .attr("r", 6.8)
    .attr("fill", "#ed7d31");

// axis titles
svg.append("text")
    .attr("x", 591).attr("y", 950)
    .attr("text-anchor", "middle")
    .attr("fill", "#595959")
    .style("font-size", "26px")
    .text("Cardrona River naturalised flow (Log10 m\u00b3/s)");

svg.append("text")
    .attr("transform", "translate(40,470) rotate(-90)")
    .attr("text-anchor", "middle")
    .attr("fill", "#595959")
    .style("font-size", "26px")
    .text("Arrow River naturalised flow (Log10 m\u00b3/s)");

</script>
</body>
</html>
